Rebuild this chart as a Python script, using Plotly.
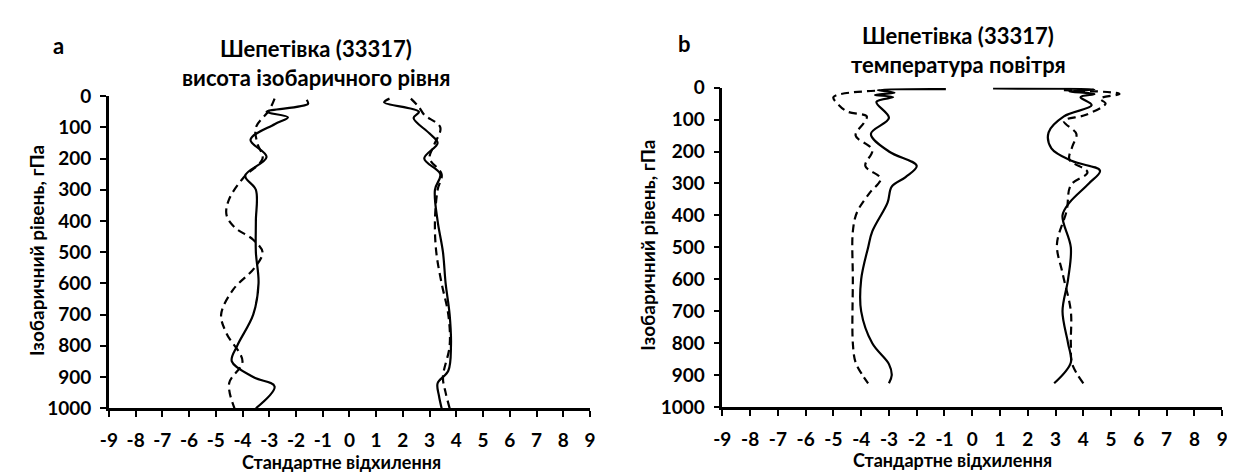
import plotly.graph_objects as go

# ---------------- DATA ----------------
# Panel a: height of isobaric level (Шепетівка 33317)
a_solid_left_p = [12, 25, 50, 68, 90, 140, 195, 255, 300, 400, 500, 600, 700, 800, 850, 900, 930, 1000]
a_solid_left_v = [-1.6, -1.55, -3.1, -2.3, -2.8, -3.7, -3.1, -3.9, -3.5, -3.5, -3.5, -3.4, -3.6, -4.2, -4.4, -3.6, -2.8, -3.5]

a_dash_left_p = [8, 45, 100, 150, 200, 260, 330, 380, 420, 460, 500, 550, 620, 700, 760, 850, 920, 1000]
a_dash_left_v = [-2.8, -3.0, -3.5, -3.45, -3.25, -3.95, -4.5, -4.6, -4.3, -3.6, -3.25, -3.55, -4.35, -4.8, -4.6, -4.0, -4.5, -4.3]

a_solid_right_p = [8, 20, 50, 70, 120, 150, 200, 250, 300, 400, 500, 600, 700, 800, 880, 920, 960, 1000]
a_solid_right_v = [1.5, 1.3, 2.6, 2.4, 3.0, 3.3, 2.8, 3.4, 3.2, 3.3, 3.5, 3.6, 3.75, 3.8, 3.7, 3.3, 3.35, 3.45]

a_dash_right_p = [8, 35, 60, 100, 160, 200, 250, 300, 400, 500, 600, 700, 800, 900, 950, 1000]
a_dash_right_v = [2.3, 2.6, 2.8, 3.4, 3.15, 3.0, 3.45, 3.3, 3.2, 3.25, 3.45, 3.7, 3.75, 3.5, 3.6, 3.75]

# Panel b: air temperature (Шепетівка 33317)
b_solid_left_p = [5, 8, 16, 23, 30, 45, 95, 145, 200, 245, 280, 310, 360, 450, 500, 600, 700, 800, 865, 900, 925]
b_solid_left_v = [-0.95, -3.4, -2.8, -3.5, -2.85, -3.45, -3.0, -3.65, -3.0, -2.0, -2.4, -2.9, -3.05, -3.6, -3.75, -4.0, -4.0, -3.6, -3.0, -2.9, -3.0]

b_dash_left_p = [10, 30, 55, 75, 90, 110, 150, 195, 245, 285, 330, 390, 450, 600, 800, 860, 900, 925]
b_dash_left_v = [-3.5, -5.0, -4.8, -4.5, -3.8, -3.9, -4.2, -3.6, -3.85, -3.3, -3.7, -4.15, -4.3, -4.3, -4.3, -4.2, -3.95, -3.75]

b_solid_right_p = [3, 6, 12, 20, 30, 55, 90, 140, 190, 230, 260, 300, 360, 400, 500, 600, 700, 800, 860, 925]
b_solid_right_v = [0.75, 4.4, 3.5, 4.4, 3.9, 4.3, 3.3, 2.75, 2.85, 3.6, 4.6, 4.2, 3.5, 3.25, 3.55, 3.45, 3.25, 3.45, 3.55, 2.95]

b_dash_right_p = [8, 20, 35, 50, 85, 105, 145, 185, 225, 265, 305, 385, 490, 580, 700, 800, 865, 925]
b_dash_right_v = [3.3, 5.3, 4.6, 4.8, 4.1, 3.3, 3.75, 3.6, 3.5, 4.15, 3.55, 3.4, 3.05, 3.25, 3.55, 3.55, 3.6, 4.0]

x_ticks = list(range(-9, 10))
y_ticks = list(range(0, 1001, 100))

title_a1 = "Шепетівка (33317)"
title_a2 = "висота ізобаричного рівня"
title_b1 = "Шепетівка (33317)"
title_b2 = "температура повітря"
x_title = "Стандартне відхилення"
y_title = "Ізобаричний рівень, гПа"

# ---------------- FIGURE ----------------
W, H = 1235, 475
FONT = "Lato"


def px(x):
    return x / W


def py(y):
    return 1 - y / H


fig = go.Figure()


def add(v, p, dash, xa, ya):
    fig.add_trace(go.Scatter(
        x=v, y=p, mode="lines", xaxis=xa, yaxis=ya, showlegend=False, hoverinfo="skip",
        line=dict(color="black", width=2.2, dash=dash, shape="spline", smoothing=1.0),
    ))


DASH = "8px,5px"
add(a_solid_left_v, a_solid_left_p, "solid", "x", "y")
add(a_dash_left_v, a_dash_left_p, DASH, "x", "y")
add(a_solid_right_v, a_solid_right_p, "solid", "x", "y")
add(a_dash_right_v, a_dash_right_p, DASH, "x", "y")
add(b_solid_left_v, b_solid_left_p, "solid", "x2", "y2")
add(b_dash_left_v, b_dash_left_p, DASH, "x2", "y2")
add(b_solid_right_v, b_solid_right_p, "solid", "x2", "y2")
add(b_dash_right_v, b_dash_right_p, DASH, "x2", "y2")

tick_font = dict(family=FONT, size=19, color="black", weight=700)

common_x = dict(range=[-9, 9], tickvals=x_ticks, ticktext=[str(t) for t in x_ticks],
                showline=True, linecolor="black", linewidth=2.5, ticks="outside",
                ticklen=6, tickwidth=2, tickcolor="black", showgrid=False, zeroline=False,
                tickfont=tick_font, ticklabelstandoff=7, fixedrange=True)
common_y = dict(range=[1000, 0], tickvals=y_ticks, ticktext=[str(t) for t in y_ticks],
                showline=True, linecolor="black", linewidth=2.5, ticks="outside",
                ticklen=6, tickwidth=2, tickcolor="black", showgrid=False, zeroline=False,
                tickfont=tick_font, ticklabelstandoff=5, fixedrange=True)

fig.update_layout(
    width=W, height=H, margin=dict(l=0, r=0, t=0, b=0),
    paper_bgcolor="white", plot_bgcolor="white",
    xaxis=dict(domain=[px(93), px(580)], anchor="y", **common_x),
    yaxis=dict(domain=[py(408), py(80)], anchor="x", **common_y),
    xaxis2=dict(domain=[px(714), px(1220)], anchor="y2", **common_x),
    yaxis2=dict(domain=[py(407), py(71)], anchor="x2", **common_y),
)


def ann(text, x, y, size, angle=0):
    fig.add_annotation(text=text, x=px(x), y=py(y), xref="paper", yref="paper",
                       showarrow=False, xanchor="center", yanchor="middle", textangle=angle,
                       font=dict(family=FONT, size=size, color="black", weight=700))


ann("a", 42, 27, 22)
ann("b", 676, 25, 22)
ann(title_a1, 303, 30, 22)
ann(title_a2, 303, 60, 22)
ann(title_b1, 953, 16, 22)
ann(title_b2, 953, 47, 22)
ann(x_title, 328, 464, 18)
ann(x_title, 947, 462, 18)
ann(y_title, 20, 242, 19, -90)
ann(y_title, 638, 237, 19, -90)

fig.write_html("out.html")
